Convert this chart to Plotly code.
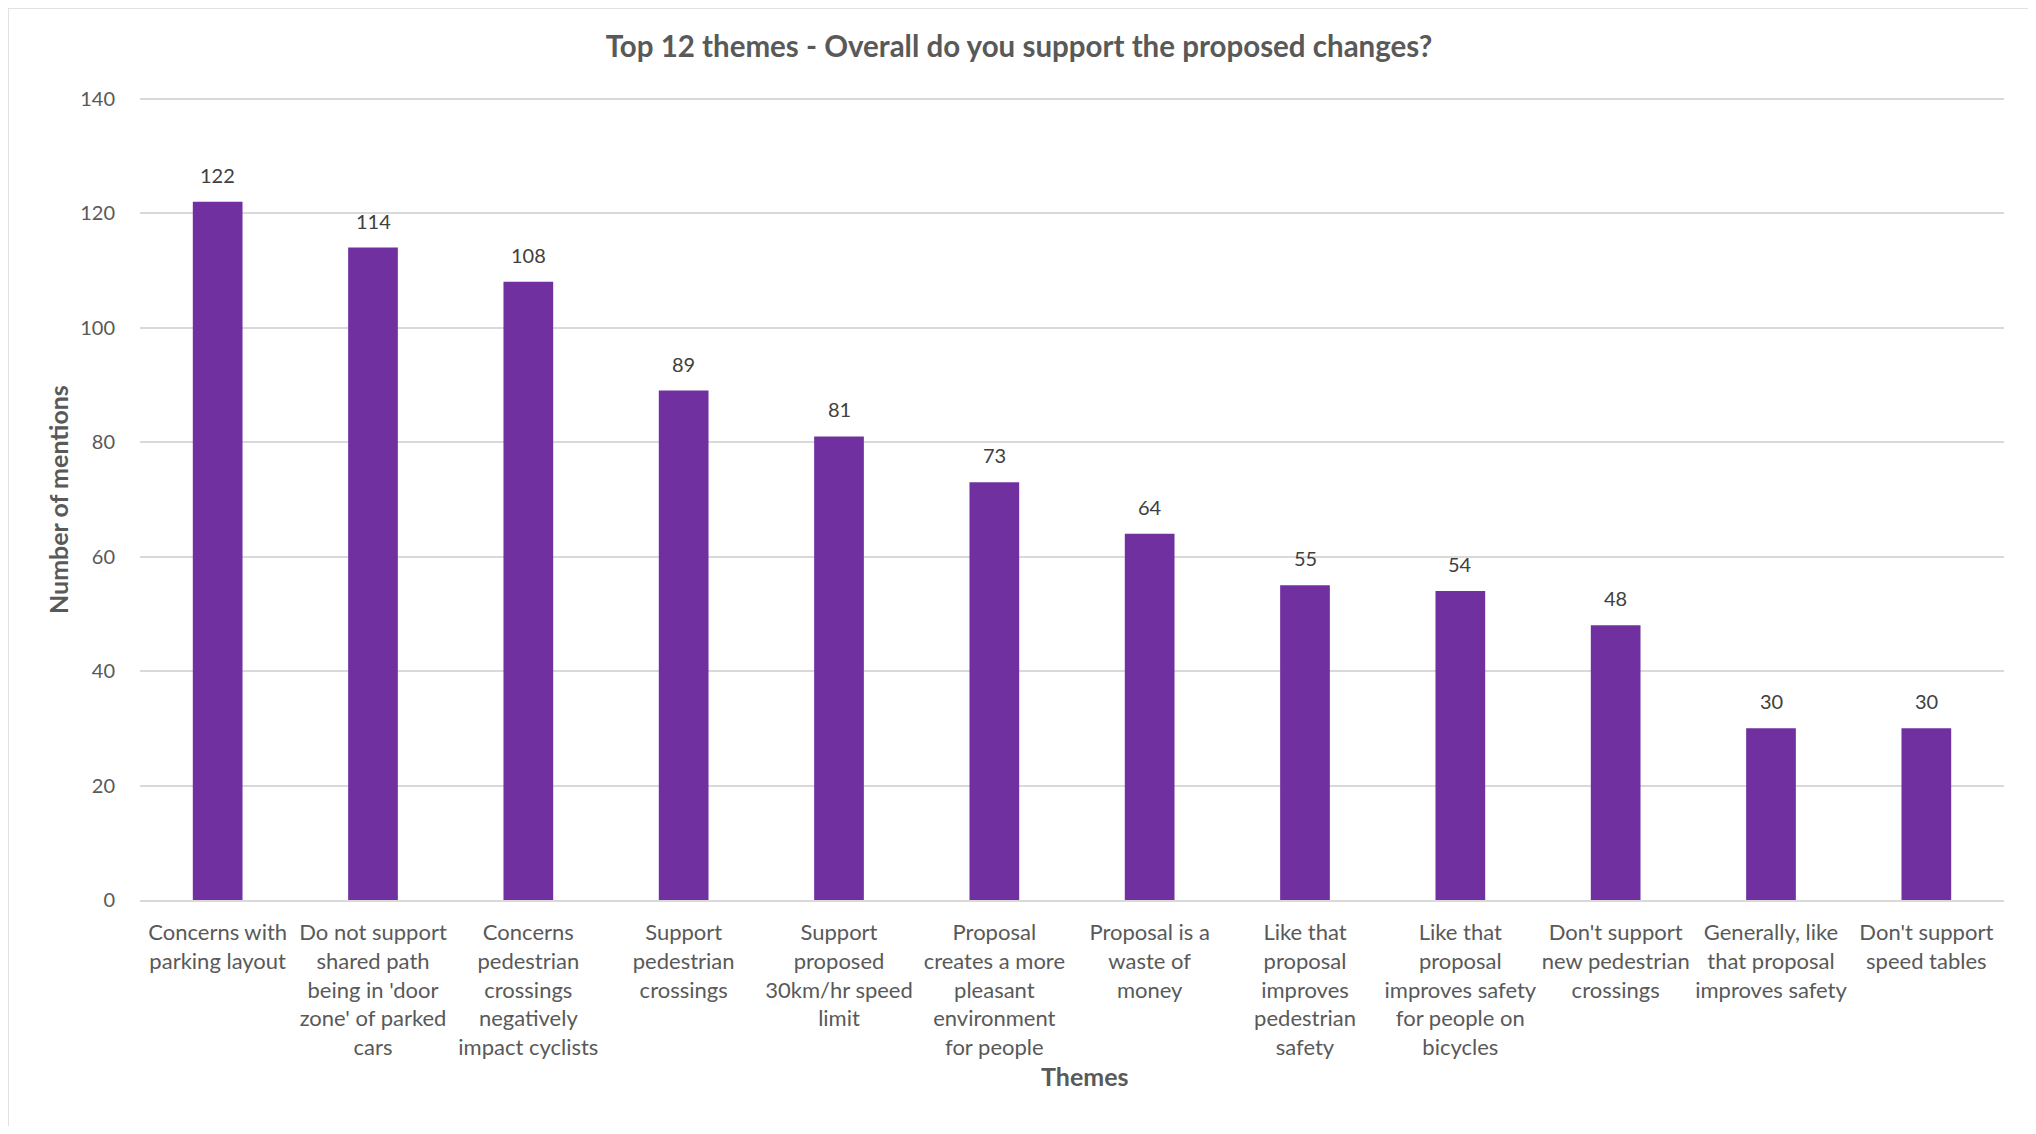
import plotly.graph_objects as go

categories = [
    "Concerns with<br>parking layout",
    "Do not support<br>shared path<br>being in 'door<br>zone' of parked<br>cars",
    "Concerns<br>pedestrian<br>crossings<br>negatively<br>impact cyclists",
    "Support<br>pedestrian<br>crossings",
    "Support<br>proposed<br>30km/hr speed<br>limit",
    "Proposal<br>creates a more<br>pleasant<br>environment<br>for people",
    "Proposal is a<br>waste of<br>money",
    "Like that<br>proposal<br>improves<br>pedestrian<br>safety",
    "Like that<br>proposal<br>improves safety<br>for people on<br>bicycles",
    "Don't support<br>new pedestrian<br>crossings",
    "Generally, like<br>that proposal<br>improves safety",
    "Don't support<br>speed tables",
]
mentions = [122, 114, 108, 89, 81, 73, 64, 55, 54, 48, 30, 30]
y_ticks = [0, 20, 40, 60, 80, 100, 120, 140]

FONT = "Lato, 'Open Sans', sans-serif"
GRAY = "#595959"

W, H = 2020, 1118
PL, PR, PT, PB = 132, 1996, 85, 892  # plot area in figure px
PW, PH = PR - PL, PB - PT

fig = go.Figure()
fig.add_trace(go.Bar(
    x=categories,
    y=mentions,
    marker=dict(color="#7030A0", line=dict(width=0)),
    cliponaxis=False,
    width=0.32,
    hoverinfo="x+y",
))

value_labels = [
    dict(x=c, y=v, xref="x", yref="y", text=str(v), showarrow=False,
         yshift=27, xanchor="center", yanchor="middle",
         font=dict(family=FONT, size=20, color="#404040"))
    for c, v in zip(categories, mentions)
]

fig.update_layout(
    width=W,
    height=H,
    margin=dict(l=PL, r=W - PR, t=PT, b=H - PB),
    paper_bgcolor="white",
    plot_bgcolor="white",
    font=dict(family=FONT, color=GRAY, size=20),
    showlegend=False,
    title=dict(
        text="<b>Top 12 themes - Overall do you support the proposed changes?</b>",
        x=1011 / W, xref="container", xanchor="center",
        y=1 - 39 / H, yref="container", yanchor="middle",
        font=dict(family=FONT, size=29.5, color=GRAY),
    ),
    xaxis=dict(
        tickfont=dict(family=FONT, size=22, color=GRAY),
        showgrid=False,
        showline=True, linecolor="#d9d9d9", linewidth=2,
        ticks="",
        ticklabelstandoff=12,
    ),
    yaxis=dict(
        range=[0, 141],
        tickvals=y_ticks,
        tickfont=dict(family=FONT, size=20, color=GRAY),
        showgrid=True, gridcolor="#d9d9d9", gridwidth=1.5,
        zeroline=False,
        ticks="",
        ticklabelstandoff=24,
    ),
    annotations=value_labels + [
        dict(text="<b>Number of mentions</b>", textangle=-90,
             x=(50 - PL) / PW, y=(PB - 492) / PH, xref="paper", yref="paper",
             xanchor="center", yanchor="middle", showarrow=False,
             font=dict(family=FONT, size=25, color=GRAY)),
        dict(text="<b>Themes</b>",
             x=(1077 - PL) / PW, y=(PB - 1068) / PH, xref="paper", yref="paper",
             xanchor="center", yanchor="middle", showarrow=False,
             font=dict(family=FONT, size=25, color=GRAY)),
    ],
    shapes=[
        dict(type="rect", xref="paper", yref="paper",
             x0=(0 - PL) / PW, x1=(2024 - PL) / PW,
             y0=(PB - 1140) / PH, y1=(PB - 0) / PH,
             line=dict(color="#d9d9d9", width=1.5), fillcolor="rgba(0,0,0,0)",
             layer="below"),
    ],
)

fig.write_html("out.html")
